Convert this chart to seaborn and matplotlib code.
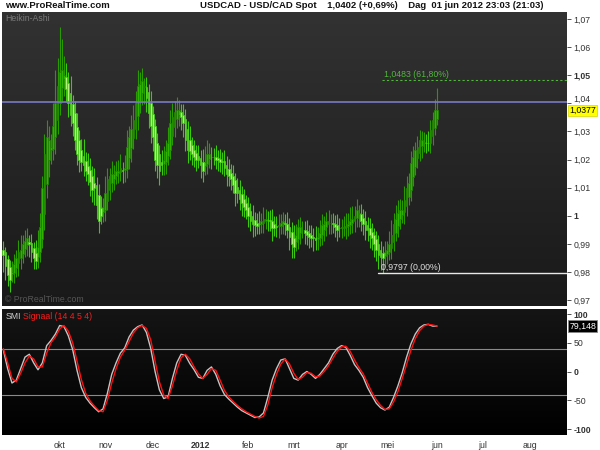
import numpy as np
import pandas as pd
import matplotlib
matplotlib.use("Agg")
import matplotlib.pyplot as plt
from matplotlib.colors import LinearSegmentedColormap
import seaborn as sns

sns.set_style("dark")
plt.rcParams['font.family'] = ['Liberation Sans', 'DejaVu Sans']

# ---------------- data ----------------
# Heikin-Ashi closes, one per trading day from 26 Aug 2011 to 1 Jun 2012
ha_close = [
    0.986, 0.982, 0.979, 0.977, 0.980, 0.983, 0.985, 0.987, 0.988, 0.990,
    0.991, 0.992, 0.990, 0.987, 0.985, 0.984, 0.989, 0.996, 1.010, 1.022,
    1.028, 1.027, 1.0245, 1.032, 1.040, 1.046, 1.051, 1.052, 1.050, 1.045,
    1.040, 1.036, 1.033, 1.027, 1.022, 1.020, 1.019, 1.018, 1.016, 1.015,
    1.012, 1.009, 1.010, 1.004, 0.998, 1.000, 1.003, 1.008, 1.013, 1.014,
    1.015, 1.015, 1.016, 1.016, 1.017, 1.016, 1.017, 1.0245, 1.028, 1.031,
    1.034, 1.040, 1.046, 1.047, 1.048, 1.046, 1.042, 1.0366, 1.032, 1.028,
    1.020, 1.018, 1.016, 1.018, 1.020, 1.023, 1.026, 1.033, 1.035, 1.037,
    1.0376, 1.0376, 1.035, 1.033, 1.027, 1.0234, 1.023, 1.022, 1.021, 1.020,
    1.020, 1.018, 1.016, 1.019, 1.022, 1.022, 1.021, 1.021, 1.020, 1.020,
    1.019, 1.019, 1.017, 1.015, 1.014, 1.013, 1.011, 1.008, 1.008, 1.006,
    1.0045, 1.003, 1.002, 1.000, 0.998, 0.997, 0.9967, 0.9965, 0.997, 0.998,
    0.999, 0.999, 0.9985, 0.998, 0.9956, 0.9958, 0.996, 0.9967, 0.9975, 0.998,
    0.997, 0.995, 0.9924, 0.990, 0.989, 0.993, 0.996, 0.996, 0.995, 0.994,
    0.993, 0.9924, 0.992, 0.992, 0.9915, 0.9924, 0.994, 0.9967, 0.997, 0.998,
    0.998, 0.9975, 0.997, 0.996, 0.995, 0.9955, 0.996, 0.996, 0.9965, 0.997,
    0.998, 0.999, 1.000, 1.002, 1.001, 0.998, 0.997, 0.995, 0.995, 0.993,
    0.992, 0.990, 0.988, 0.986, 0.9853, 0.985, 0.987, 0.988, 0.990, 0.993,
    0.997, 0.999, 1.001, 1.002, 1.002, 1.0056, 1.010, 1.0116, 1.0187, 1.021,
    1.0233, 1.0245, 1.027, 1.027, 1.0262, 1.026, 1.026, 1.0305, 1.034, 1.0376,
    1.0377,
]
# upper / lower wick lengths beyond the body, in pips (0.0001)
wick_up = [
    30, 20, 15, 25, 40, 35, 30, 45, 50, 30, 40, 35, 25, 30, 20, 45, 60, 50, 40, 70,
    60, 50, 45, 80, 120, 100, 160, 110, 70, 50, 40, 60, 30, 45, 50, 35, 40, 60, 30, 45,
    40, 35, 55, 30, 40, 45, 35, 60, 40, 30, 45, 30, 35, 40, 50, 30, 45, 60, 40, 50,
    55, 45, 60, 40, 45, 30, 35, 30, 40, 30, 25, 35, 30, 45, 50, 40, 55, 45, 50, 40,
    45, 35, 30, 40, 35, 30, 50, 30, 35, 30, 40, 30, 45, 60, 50, 40, 35, 30, 40, 30,
    35, 30, 40, 30, 35, 30, 40, 25, 30, 35, 30, 35, 30, 35, 30, 40, 30, 35, 45, 30,
    40, 35, 30, 35, 40, 30, 35, 40, 30, 35, 30, 40, 30, 35, 45, 40, 30, 35, 30, 30,
    40, 30, 35, 30, 40, 35, 45, 40, 30, 35, 40, 30, 35, 30, 40, 35, 30, 40, 45, 40,
    50, 45, 35, 40, 30, 35, 30, 35, 30, 35, 30, 25, 30, 35, 30, 25, 40, 30, 45, 55,
    40, 50, 45, 40, 35, 50, 40, 35, 45, 40, 30, 40, 35, 30, 35, 30, 40, 35, 30, 40,
    78,
]
wick_dn = [
    60, 50, 40, 40, 30, 35, 30, 45, 40, 35, 30, 40, 45, 35, 40, 30, 40, 35, 30, 60,
    50, 60, 50, 40, 60, 50, 40, 50, 60, 45, 50, 40, 45, 35, 40, 45, 30, 40, 35, 40,
    50, 40, 60, 50, 40, 30, 35, 40, 30, 35, 30, 40, 30, 35, 30, 45, 40, 30, 40, 50,
    40, 35, 50, 40, 45, 60, 50, 55, 60, 50, 40, 45, 50, 35, 40, 45, 30, 35, 30, 35,
    30, 40, 45, 50, 40, 45, 30, 40, 35, 40, 30, 45, 40, 30, 35, 30, 45, 30, 35, 40,
    35, 40, 30, 45, 35, 40, 30, 45, 35, 40, 45, 35, 30, 40, 35, 45, 40, 30, 35, 30,
    35, 30, 40, 35, 45, 30, 35, 40, 30, 35, 40, 30, 45, 50, 40, 30, 35, 40, 30, 40,
    35, 40, 30, 45, 35, 40, 30, 35, 40, 30, 35, 40, 30, 35, 40, 30, 35, 30, 40, 35,
    30, 35, 40, 30, 45, 35, 40, 35, 40, 45, 40, 45, 40, 50, 45, 53, 40, 35, 30, 40,
    35, 30, 40, 35, 30, 40, 35, 30, 40, 35, 30, 35, 30, 40, 30, 35, 30, 35, 30, 25,
    20,
]
# SMI and its signal line, every 2nd trading day
smi_step = 2
smi = [
    38, 5, -20, -15, 5, 25, 30, 15, 3, 15, 45, 54, 65, 80, 78, 62, 38, 2, -28, -45,
    -55, -63, -70, -65, -38, -5, 15, 32, 41, 60, 72, 78, 81, 68, 40, 0, -32, -47, -44, -12,
    15, 30, 28, 14, 3, -10, -12, 2, 8, -5, -25, -40, -48, -55, -62, -68, -72, -76, -80, -79,
    -72, -45, -15, 5, 20, 22, 5, -12, -15, -5, 0, -5, -12, -5, 5, 15, 30, 40, 45, 42,
    28, 12, 2, -10, -28, -42, -55, -63, -67, -62, -45, -25, -2, 25, 48, 65, 76, 81, 82, 79,
    79,
]
signal = [
    40, 15, -12, -18, -3, 15, 27, 22, 8, 8, 32, 50, 60, 74, 80, 70, 50, 18, -14, -38,
    -51, -60, -68, -70, -50, -20, 5, 25, 37, 52, 67, 76, 80, 75, 55, 18, -18, -41, -47, -25,
    2, 24, 30, 22, 8, -4, -12, -5, 5, 2, -15, -33, -44, -52, -59, -65, -70, -74, -78, -81,
    -78, -58, -28, -5, 13, 22, 13, -3, -14, -10, -2, -3, -9, -8, 0, 10, 23, 35, 43, 44,
    35, 20, 7, -4, -20, -36, -49, -59, -66, -65, -53, -35, -12, 12, 37, 57, 71, 79, 82, 81,
    79,
]
month_labels = ['okt', 'nov', 'dec', '2012', 'feb', 'mrt', 'apr', 'mei', 'jun', 'jul', 'aug']
price_ticks = [0.97, 0.98, 0.99, 1.00, 1.01, 1.02, 1.03, 1.04, 1.05, 1.06, 1.07]
smi_ticks = [-100, -50, 0, 50, 100]
last_price = 1.0377
last_smi = 79.148
fib_high = 1.0483
fib_low = 0.9797
hline_price = 1.0405
smi_levels = [40, -40]

# ---------------- derived positions ----------------
days = pd.bdate_range('2011-08-26', '2012-08-31')
month_starts = pd.date_range('2011-10-01', '2012-08-01', freq='MS')
tick_pos = [int(days.searchsorted(m)) for m in month_starts]

close = np.array(ha_close)
n = len(close)
x = np.arange(n)
ha_open = np.empty(n)
ha_open[0] = close[0] + 0.002
for i in range(1, n):
    ha_open[i] = (ha_open[i - 1] + close[i - 1]) / 2
body_hi = np.maximum(ha_open, close)
body_lo = np.minimum(ha_open, close)
high = body_hi + np.array(wick_up) / 1e4
low = body_lo - np.array(wick_dn) / 1e4
up = close >= ha_open

XMIN, XMAX = -0.6, 260
P_LO, P_HI = 0.9679, 1.0725
S_LO, S_HI = -110.4, 108.7

fig = plt.figure(figsize=(6, 4.5), dpi=100, facecolor='white')
ax1 = fig.add_axes([2 / 600, 1 - 306 / 450, 565 / 600, 294 / 450])
ax2 = fig.add_axes([2 / 600, 1 - 435 / 450, 565 / 600, 126 / 450])


def gradient(ax, top, bottom, ylo, yhi):
    cmap = LinearSegmentedColormap.from_list('g', [top, bottom])
    ax.imshow(np.linspace(0, 1, 256).reshape(-1, 1), cmap=cmap, aspect='auto',
              extent=[XMIN, XMAX, ylo, yhi], origin='upper', zorder=0)


gradient(ax1, '#323232', '#191919', P_LO, P_HI)
gradient(ax2, '#151515', '#000000', S_LO, S_HI)

# ---- price panel ----
wick_col = np.where(up, '#2a9a00', '#3cc810')
ax1.vlines(x, low, high, colors=wick_col, lw=0.8, zorder=2)
ax1.bar(x[up], (body_hi - body_lo)[up], bottom=body_lo[up], width=0.8,
        color='#30b400', edgecolor='#1f8400', linewidth=0.5, zorder=3)
ax1.bar(x[~up], (body_hi - body_lo)[~up], bottom=body_lo[~up], width=0.8,
        color='#aef57a', edgecolor='#40d012', linewidth=0.5, zorder=3)

ax1.axhline(hline_price, color='#7a7ac4', lw=1.2, zorder=4)
ax1.plot([174.5, XMAX], [fib_high, fib_high], color='#4fb83a', lw=0.8,
         ls=(0, (2, 2)), zorder=4)
ax1.plot([173, XMAX], [fib_low, fib_low], color='#e8e8e8', lw=1.0, zorder=4)
ax1.text(175.5, fib_high + 0.0004, '1,0483 (61,80%)', color='#4fb83a', fontsize=6.3,
         va='bottom', ha='left', zorder=5)
ax1.text(174, fib_low + 0.0003, '0,9797 (0,00%)', color='#e0e0e0', fontsize=6.3,
         va='bottom', ha='left', zorder=5)
ax1.text(0.006, 0.992, 'Heikin-Ashi', color='#7a7a7a', fontsize=6.3,
         transform=ax1.transAxes, va='top', ha='left')
ax1.text(0.006, 0.008, '© ProRealTime.com', color='#555555', fontsize=6.3,
         transform=ax1.transAxes, va='bottom', ha='left')

ax1.set_xlim(XMIN, XMAX)
ax1.set_ylim(P_LO, P_HI)
ax1.set_xticks([])
ax1.yaxis.tick_right()
ax1.set_yticks(price_ticks)
ax1.set_yticklabels([('1' if abs(t - 1) < 1e-9 else f'{t:.2f}'.replace('.', ',')) for t in price_ticks])
for lab, t in zip(ax1.get_yticklabels(), price_ticks):
    if abs(t - 1.05) < 1e-9 or abs(t - 1.0) < 1e-9:
        lab.set_fontweight('bold')
        lab.set_fontsize(7)
    if abs(t - 1.04) < 1e-9:
        lab.set_va('bottom')
ax1.tick_params(axis='y', labelsize=6.3, colors='#333333', length=3, width=0.6, pad=1.5)
ax1.grid(False)
for s in ax1.spines.values():
    s.set_visible(False)
ax1.text(1.004, last_price - 0.0003, '1,0377', transform=ax1.get_yaxis_transform(),
         fontsize=6.3, ha='left', va='center', color='black', zorder=10,
         bbox=dict(boxstyle='square,pad=0.12', fc='#ffff00', ec='#d4d400', lw=0.5))

# ---- SMI panel ----
sx = np.arange(len(smi)) * smi_step
df = pd.DataFrame({'x': sx, 'SMI': smi, 'Signal': signal})
for lv in smi_levels:
    ax2.axhline(lv, color='#8a8a8a', lw=0.8, zorder=1)
sns.lineplot(data=df, x='x', y='SMI', color='#c4c4c4', lw=1.0, ax=ax2, zorder=3)
sns.lineplot(data=df, x='x', y='Signal', color='#ff1010', lw=1.0, ax=ax2, zorder=4)
ax2.set_xlim(XMIN, XMAX)
ax2.set_ylim(S_LO, S_HI)
ax2.set_xlabel('')
ax2.set_ylabel('')
ax2.yaxis.tick_right()
ax2.set_yticks(smi_ticks)
ax2.set_yticklabels([str(t) for t in smi_ticks])
for lab, t in zip(ax2.get_yticklabels(), smi_ticks):
    if t in (-100, 0, 100):
        lab.set_fontweight('bold')
        lab.set_fontsize(7)
ax2.tick_params(axis='y', labelsize=6.3, colors='#333333', length=3, width=0.6, pad=1.5)
ax2.set_xticks(tick_pos)
ax2.set_xticklabels(month_labels)
for lab, t in zip(ax2.get_xticklabels(), month_labels):
    if t == '2012':
        lab.set_fontweight('bold')
        lab.set_fontsize(8)
ax2.tick_params(axis='x', labelsize=6.3, colors='#333333', length=3, width=0.6, pad=1.5)
ax2.grid(False)
for s in ax2.spines.values():
    s.set_visible(False)
ax2.text(0.006, 0.975, 'SMI', color='#cfcfcf', fontsize=6.3, transform=ax2.transAxes,
         va='top', ha='left')
ax2.text(0.037, 0.975, 'Signaal (14 4 5 4)', color='#ff1a1a', fontsize=6.3,
         transform=ax2.transAxes, va='top', ha='left')
ax2.text(1.004, last_smi, '79,148', transform=ax2.get_yaxis_transform(), fontsize=6.3,
         ha='left', va='center', color='white', zorder=10,
         bbox=dict(boxstyle='square,pad=0.15', fc='black', ec='#888888', lw=0.6))

# ---- header ----
fig.text(5 / 600, 1 - 6 / 450, 'www.ProRealTime.com', fontsize=6.8, fontweight='bold',
         va='center', ha='left', color='#111111')
fig.text(200 / 600, 1 - 6 / 450,
         'USDCAD - USD/CAD Spot    1,0402 (+0,69%)    Dag  01 jun 2012 23:03 (21:03)',
         fontsize=6.8, fontweight='bold', va='center', ha='left', color='#111111')

fig.savefig('out.png', dpi=100, facecolor='white')
